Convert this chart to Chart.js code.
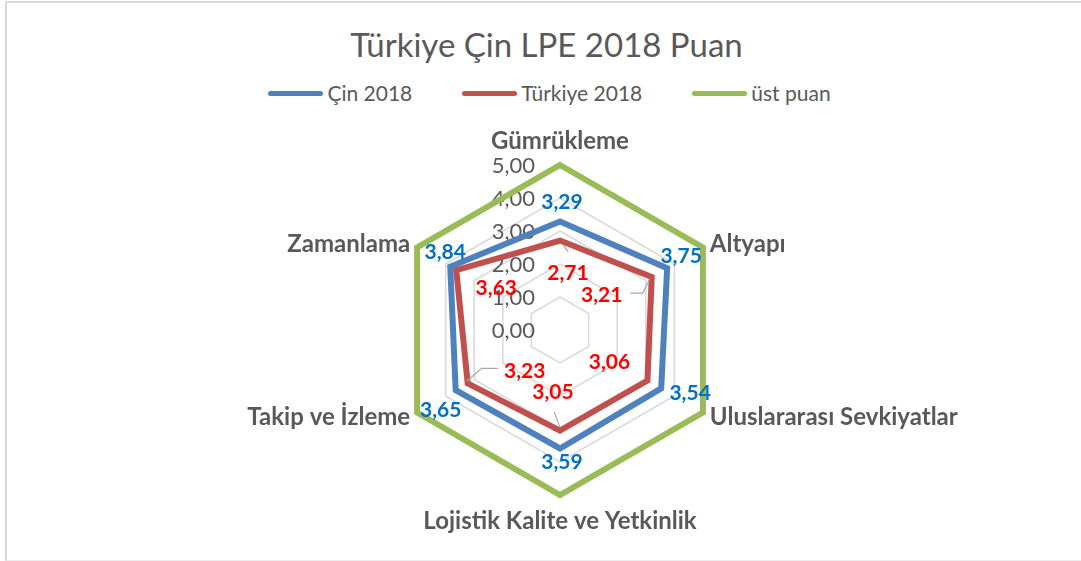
<!DOCTYPE html>
<html lang="tr">
<head>
<meta charset="utf-8">
<title>Türkiye Çin LPE 2018 Puan</title>
<script src="https://cdn.jsdelivr.net/npm/chart.js@4.4.1/dist/chart.umd.min.js"></script>
<style>
    html, body { margin: 0; padding: 0; background: #fff; overflow: hidden; }
    #wrap { position: relative; width: 1081px; height: 561px; overflow: hidden; font-family: Lato, sans-serif; }
    #frame { position: absolute; left: 5px; top: 1px; right: 0; bottom: 0; border: 2px solid #d9d9d9; border-right: none; border-bottom: 1px solid #ececec; }
    #title { position: absolute; left: 12px; width: 1069px; top: 24px; line-height: 40px; text-align: center; font-size: 33px; color: #595959; }
    #legend { position: absolute; left: 18px; width: 1063px; top: 81px; height: 24px; display: flex; justify-content: center; align-items: center; gap: 50px; font-size: 21px; color: #595959; }
    .legend-item { display: flex; align-items: center; line-height: 24px; }
    .legend-line { width: 55px; height: 5px; border-radius: 3px; margin-right: 4px; }
    canvas { position: absolute; left: 0; top: 0; }
</style>
</head>
<body>
<div id="wrap">
    <div id="frame"></div>
    <div id="title">Türkiye Çin LPE 2018 Puan</div>
    <div id="legend"></div>
    <canvas id="lpeChart" width="1081" height="561"></canvas>
</div>

<script>
// --- Données ---
const categories = ['Gümrükleme', 'Altyapı', 'Uluslararası Sevkiyatlar', 'Lojistik Kalite ve Yetkinlik', 'Takip ve İzleme', 'Zamanlama'];
const cin2018 = [3.29, 3.75, 3.54, 3.59, 3.65, 3.84];
const turkiye2018 = [2.71, 3.21, 3.06, 3.05, 3.23, 3.63];
const ustPuan = [5, 5, 5, 5, 5, 5];
const tickValues = [0, 1, 2, 3, 4, 5];

const fmt = v => v.toFixed(2).replace('.', ',');

// placement des étiquettes de valeurs (décalage en px depuis le point), lignes de repère comme dans Excel
const valueLabels = {
    0: { color: '#0070C0', offsets: [[2, -20], [14, -13], [29, 4], [2, 13], [-15, 19], [-5, -15]] },
    1: {
        color: '#FF0000',
        offsets: [[8, 32], [-50, 17], [-38, -19], [-7, -39], [57, -13], [40, 17]],
        leaders: {
            0: [[3, 4], [8, 11]],
            1: [[-2, 2], [-9, 16], [-21, 16]],
            3: [[0, -3], [-6, -19]],
            4: [[-1, -2], [14, -15], [30, -15]]
        }
    }
};

// étiquettes de graduation décalées à gauche de l'axe
const tickLabelsPlugin = {
    id: 'tickLabels',
    beforeDatasetsDraw(chart) {
        const scale = chart.scales.r;
        const ctx = chart.ctx;
        ctx.save();
        ctx.font = '22px Lato';
        ctx.fillStyle = '#595959';
        ctx.textAlign = 'right';
        ctx.textBaseline = 'alphabetic';
        scale.ticks.forEach(t => {
            const y = scale.yCenter - scale.getDistanceFromCenterForValue(t.value);
            ctx.fillText(fmt(t.value), scale.xCenter - 25, y + 8);
        });
        ctx.restore();
    }
};

// libellés des axes + valeurs
const labelsPlugin = {
    id: 'radarLabels',
    afterDatasetsDraw(chart) {
        const scale = chart.scales.r;
        const ctx = chart.ctx;
        ctx.save();

        // libellés des catégories
        ctx.font = 'bold 24px Lato';
        ctx.fillStyle = '#595959';
        ctx.textBaseline = 'alphabetic';
        chart.data.labels.forEach((label, i) => {
            const p = scale.getPointPosition(i, scale.drawingArea + 8);
            const dx = p.x - scale.xCenter;
            let y = p.y;
            if (Math.abs(dx) < 1) {
                ctx.textAlign = 'center';
                y += p.y < scale.yCenter ? -17 : 17;
            } else {
                ctx.textAlign = dx > 0 ? 'left' : 'right';
            }
            ctx.fillText(label, p.x, y + 8.5);
        });

        // valeurs
        ctx.font = 'bold 21px Lato';
        ctx.textAlign = 'center';
        Object.keys(valueLabels).forEach(dsIndex => {
            const cfg = valueLabels[dsIndex];
            const meta = chart.getDatasetMeta(dsIndex);
            const values = chart.data.datasets[dsIndex].data;
            meta.data.forEach((pt, i) => {
                const leader = cfg.leaders && cfg.leaders[i];
                if (leader) {
                    ctx.strokeStyle = '#A6A6A6';
                    ctx.lineWidth = 1.2;
                    ctx.beginPath();
                    leader.forEach(([lx, ly], k) => {
                        if (k === 0) ctx.moveTo(pt.x + lx, pt.y + ly);
                        else ctx.lineTo(pt.x + lx, pt.y + ly);
                    });
                    ctx.stroke();
                }
                const [ox, oy] = cfg.offsets[i];
                ctx.fillStyle = cfg.color;
                ctx.fillText(fmt(values[i]), pt.x + ox, pt.y + oy + 7.5);
            });
        });
        ctx.restore();
    }
};

const chart = new Chart(document.getElementById('lpeChart'), {
    type: 'radar',
    data: {
        labels: categories,
        datasets: [
            { label: 'Çin 2018', data: cin2018, borderColor: '#4F81BD', backgroundColor: '#4F81BD' },
            { label: 'Türkiye 2018', data: turkiye2018, borderColor: '#C0504D', backgroundColor: '#C0504D' },
            { label: 'üst puan', data: ustPuan, borderColor: '#9BBB59', backgroundColor: '#9BBB59' }
        ]
    },
    options: {
        responsive: false,
        animation: false,
        devicePixelRatio: 1,
        layout: { padding: { top: 165, bottom: 66, left: 39, right: 0 } },
        elements: {
            line: { borderWidth: 6, fill: false, tension: 0 },
            point: { radius: 0, hoverRadius: 0 }
        },
        plugins: {
            legend: { display: false },
            title: { display: false },
            tooltip: { enabled: false }
        },
        scales: {
            r: {
                min: 0,
                max: 5,
                afterBuildTicks: s => { s.ticks = tickValues.map(v => ({ value: v })); },
                ticks: { display: false, stepSize: 1 },
                pointLabels: { display: false },
                angleLines: { display: false },
                grid: { color: '#D9D9D9', lineWidth: 1.5 }
            }
        }
    },
    plugins: [tickLabelsPlugin, labelsPlugin]
});

// légende HTML
const legendEl = document.getElementById('legend');
chart.data.datasets.forEach(ds => {
    const item = document.createElement('div');
    item.className = 'legend-item';
    item.innerHTML = `<span class="legend-line" style="background:${ds.borderColor}"></span><span>${ds.label}</span>`;
    legendEl.appendChild(item);
});
</script>
</body>
</html>
